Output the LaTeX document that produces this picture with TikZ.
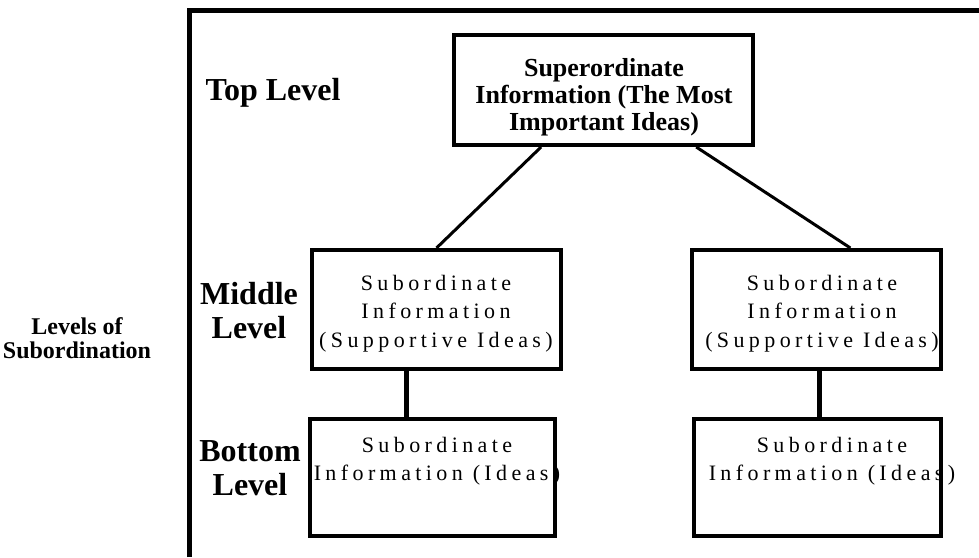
\documentclass[tikz,border=0pt]{standalone}
\usepackage{fontspec}
\setmainfont{Liberation Serif}
\newfontfamily\spacedfont[LetterSpace=20]{Liberation Serif}
\usetikzlibrary{calc}

\tikzset{
  box/.style={draw, rectangle, line width=4pt, inner sep=0pt},
  boxtext/.style={align=center, inner sep=0pt, anchor=base,
    font=\spacedfont\fontsize{22}{28.5}\selectfont},
  toptext/.style={align=center, inner sep=0pt, anchor=base,
    font=\bfseries\fontsize{26}{27}\selectfont},
  levelname/.style={align=center, inner sep=0pt, anchor=base,
    font=\bfseries\fontsize{32}{34}\selectfont},
  frame/.style={line width=5pt},
  link/.style={line width=3pt},
  stem/.style={line width=5pt}
}

\begin{document}
\begin{tikzpicture}[x=1pt,y=-1pt]
\useasboundingbox (0,0) rectangle (979,557);
\draw[frame] (189.5,557) |- (979,10.5);

\node[box, minimum width=299pt, minimum height=110pt] (super) at (603.5,90) {};
\node[box, minimum width=249pt, minimum height=119pt] (midl) at (436.5,309.5) {};
\node[box, minimum width=249pt, minimum height=119pt] (midr) at (816.5,309.5) {};
\node[box, minimum width=245pt, minimum height=117pt] (botl) at (432.5,477.5) {};
\node[box, minimum width=247pt, minimum height=117pt] (botr) at (817.5,477.5) {};

\node[toptext] (super-txt) at (604,130) {Superordinate\\Information (The Most\\Important Ideas)};
\node[boxtext] (midl-txt) at (436,347) {Subordinate\\Information\\(Supportive Ideas)};
\node[boxtext] (midr-txt) at (822,347) {Subordinate\\Information\\(Supportive Ideas)};
\node[boxtext] (botl-txt) at (437,480.5) {Subordinate\\Information (Ideas)};
\node[boxtext] (botr-txt) at (832,480.5) {Subordinate\\Information (Ideas)};

\node[levelname] (top-lvl) at (273,100) {Top Level};
\node[levelname] (mid-lvl) at (249,338) {Middle\\Level};
\node[levelname] (bot-lvl) at (250,495) {Bottom\\Level};
\node[levelname, font=\bfseries\fontsize{24}{24}\selectfont] (levels) at (77,358) {Levels of\\Subordination};

\draw[link] ($(super.south west)!.294!(super.south east)$) -- (midl.north);
\draw[link] ($(super.south west)!.806!(super.south east)$) -- ($(midr.north west)!.634!(midr.north east)$);
\draw[stem] ($(midl.south west)!.38!(midl.south east)$) coordinate (stemL) -- (stemL |- botl.north);
\draw[stem] ($(midr.south west)!.51!(midr.south east)$) coordinate (stemR) -- (stemR |- botr.north);
\end{tikzpicture}
\end{document}
